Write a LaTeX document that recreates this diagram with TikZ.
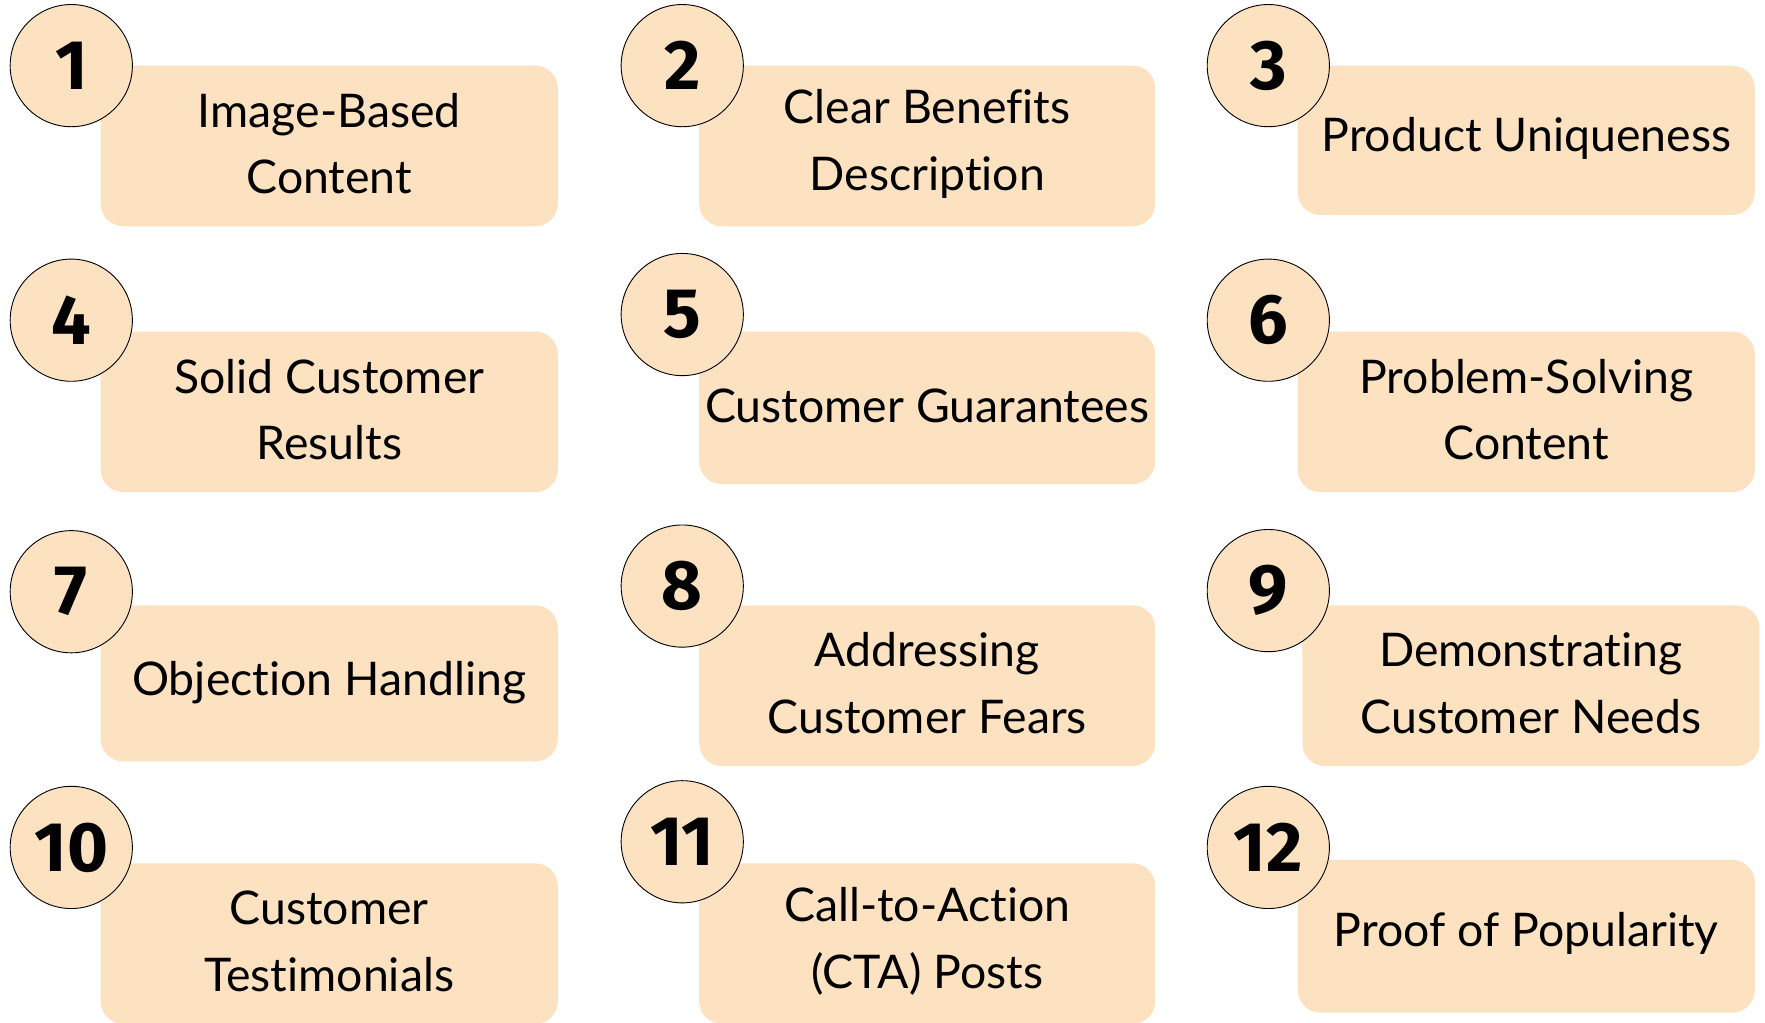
\documentclass[tikz,border=0pt]{standalone}
\usepackage{fontspec}
\setmainfont{Lato}[Ligatures=NoCommon]
\newfontfamily\numfont{Fira Sans}
\definecolor{peach}{RGB}{253,226,193}
\tikzset{
  card/.style={fill=peach, rounded corners=20pt, inner sep=0pt},
  badge/.style={circle, fill=peach, draw=black, line width=0.8pt, minimum size=108pt, inner sep=0pt,
    font=\numfont\bfseries\fontsize{62}{62}\selectfont},
  cardtext/.style={align=center, inner sep=0pt, font=\fontsize{41}{59}\selectfont}
}
% #1 number, #2 #3 circle centre, #4..#7 card corners, #8 text y, #9 text
\newcommand\mkentry[9]{%
  \node[card, minimum width={#6pt-#4pt}, minimum height={#7pt-#5pt}] (b#1) at ({(#4+#6)/2},{(#5+#7)/2}) {};
  \node[cardtext] (t#1) at ({(#4+#6)/2},#8) {#9};
  \node[badge] (c#1) at (#2,#3) {#1};
}
\begin{document}
\begin{tikzpicture}[x=1pt,y=-1pt]
\useasboundingbox (0,0) rectangle (1560,904);
\fill[white] (0,0) rectangle (1560,904);
\mkentry{1}{63}{58}{89}{58}{493}{200}{127}{Image-Based\\Content}
\mkentry{2}{603}{58}{618}{58}{1021}{200}{127}{Clear Benef\kern0pt its\\Descript\kern0pt ion}
\mkentry{3}{1121}{58}{1147}{58}{1551}{190}{122}{Product Uniqueness}
\mkentry{4}{63}{283}{89}{293}{493}{435}{362}{Solid Customer\\Results}
\mkentry{5}{603}{278}{618}{293}{1021}{428}{359}{Customer Guarantees}
\mkentry{6}{1121}{283}{1147}{293}{1551}{435}{362}{Problem-Solving\\Content}
\mkentry{7}{63}{523}{89}{535}{493}{673}{603}{Object\kern0pt ion Handling}
\mkentry{8}{603}{518}{618}{535}{1021}{677}{604}{Addressing\\Customer Fears}
\mkentry{9}{1121}{522}{1151}{535}{1555}{677}{604}{Demonstrat\kern0pt ing\\Customer Needs}
\mkentry{10}{63}{749}{89}{763}{493}{905}{832}{Customer\\Test\kern0pt imonials}
\mkentry{11}{603}{744}{618}{763}{1021}{905}{832}{Call-to-Act\kern0pt ion\\(CTA) Posts}
\mkentry{12}{1121}{749}{1147}{760}{1551}{895}{825}{Proof of Popularity}
\end{tikzpicture}
\end{document}
